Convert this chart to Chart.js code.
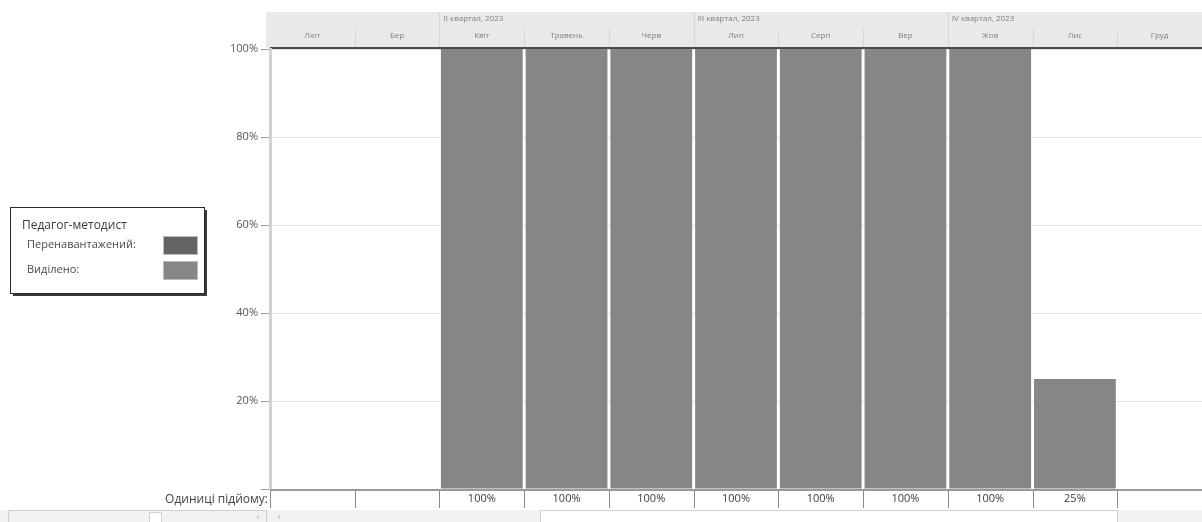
<!DOCTYPE html>
<html lang="uk">
<head>
<meta charset="utf-8">
<title>Графік ресурсів — Педагог-методист</title>
<script src="https://cdn.jsdelivr.net/npm/chart.js@4.4.1/dist/chart.umd.min.js"></script>
<style>
  html, body { margin: 0; padding: 0; background: #ffffff; }
  #wrap { position: relative; width: 1202px; height: 522px; }
  canvas { display: block; }
</style>
</head>
<body>
<div id="wrap"><canvas id="chart" width="1202" height="522"></canvas></div>
<script>
// Timescale: months shown in the view
const months = ['Лют', 'Бер', 'Квіт', 'Травень', 'Черв', 'Лип', 'Серп', 'Вер', 'Жов', 'Лис', 'Груд'];
// Quarter captions and the month each one starts on
const quarterLabels = ['II квартал, 2023', 'III квартал, 2023', 'IV квартал, 2023'];
const quarterStarts = ['Квіт', 'Лип', 'Жов'];
// Resource load per month, percent
const allocated = [0, 0, 100, 100, 100, 100, 100, 100, 100, 25, 0];
const overallocated = [0, 0, 0, 0, 0, 0, 0, 0, 0, 0, 0];
// Y axis ticks, percent
const yTicks = [20, 40, 60, 80, 100];

const resourceName = 'Педагог-методист';
const peakRowTitle = 'Одиниці підйому:';

const FONT = '"Open Sans", "Noto Sans", "DejaVu Sans", sans-serif';

function columnEdges(chart) {
  const xs = chart.scales.x;
  const w = (chart.chartArea.right - chart.chartArea.left) / months.length;
  const edges = [];
  for (let i = 0; i <= months.length; i++) edges.push(chart.chartArea.left + i * w);
  return { edges, w, xs };
}

// Timescale header above the plot, peak-units row and scroll strip below it
const headerPlugin = {
  id: 'timescaleHeader',
  beforeDraw(chart) {
    const ctx = chart.ctx;
    const { left, right, top } = chart.chartArea;
    const { edges, xs } = columnEdges(chart);
    ctx.save();
    ctx.fillStyle = '#e9e9e9';
    ctx.fillRect(left - 4, 12, right - left + 4, top - 13);
    // separators in month row
    ctx.strokeStyle = '#d6d6d6';
    ctx.lineWidth = 1;
    edges.forEach((x, i) => {
      if (i === 0) return;
      ctx.beginPath();
      ctx.moveTo(Math.round(x) + 0.5, 29);
      ctx.lineTo(Math.round(x) + 0.5, top - 2);
      ctx.stroke();
    });
    // quarter separators
    quarterStarts.forEach(m => {
      const i = months.indexOf(m);
      const x = Math.round(edges[i]) + 0.5;
      ctx.beginPath();
      ctx.moveTo(x, 12);
      ctx.lineTo(x, top - 2);
      ctx.stroke();
    });
    ctx.fillStyle = '#808080';
    ctx.font = '8px ' + FONT;
    ctx.textBaseline = 'middle';
    ctx.textAlign = 'left';
    quarterLabels.forEach((q, k) => {
      const i = months.indexOf(quarterStarts[k]);
      ctx.fillText(q, edges[i] + 4, 19);
    });
    ctx.textAlign = 'center';
    months.forEach((m, i) => {
      ctx.fillText(m, xs.getPixelForValue(i), 36);
    });
    // dark rule under the header
    ctx.strokeStyle = '#4a4a4a';
    ctx.lineWidth = 2;
    ctx.beginPath();
    ctx.moveTo(left, top - 1);
    ctx.lineTo(right, top - 1);
    ctx.stroke();
    ctx.restore();
  },
  afterDraw(chart) {
    const ctx = chart.ctx;
    const { left, right, bottom } = chart.chartArea;
    const { edges, xs } = columnEdges(chart);
    ctx.save();
    // peak units row
    ctx.strokeStyle = '#9a9a9a';
    ctx.lineWidth = 2;
    ctx.beginPath();
    ctx.moveTo(left, bottom + 1);
    ctx.lineTo(right, bottom + 1);
    ctx.stroke();
    ctx.strokeStyle = '#8a8a8a';
    ctx.lineWidth = 1;
    const lastUsed = 10;
    edges.forEach((x, i) => {
      if (i > lastUsed) return;
      ctx.beginPath();
      ctx.moveTo(Math.round(x) + 0.5, bottom + 1);
      ctx.lineTo(Math.round(x) + 0.5, bottom + 19);
      ctx.stroke();
    });
    ctx.fillStyle = '#3a3a3a';
    ctx.font = '11px ' + FONT;
    ctx.textBaseline = 'middle';
    ctx.textAlign = 'center';
    allocated.forEach((v, i) => {
      if (v > 0) ctx.fillText(v + '%', xs.getPixelForValue(i), bottom + 10);
    });
    ctx.textAlign = 'right';
    ctx.fillStyle = '#444';
    ctx.font = '12px ' + FONT;
    ctx.fillText(peakRowTitle, left - 2, bottom + 11);

    // horizontal scroll bar strip
    const sy = 510;
    ctx.fillStyle = '#f2f2f2';
    ctx.fillRect(0, sy, 1202, 12);
    ctx.strokeStyle = '#d0d0d0';
    ctx.strokeRect(8.5, sy + 0.5, 258, 12);
    ctx.fillStyle = '#ffffff';
    ctx.fillRect(149, sy + 2, 13, 10);
    ctx.strokeRect(149.5, sy + 2.5, 12, 10);
    ctx.fillStyle = '#ffffff';
    ctx.fillRect(540, sy + 1, 577, 11);
    ctx.strokeRect(540.5, sy + 0.5, 577, 12);
    ctx.fillStyle = '#777';
    ctx.font = '8px ' + FONT;
    ctx.textAlign = 'center';
    ctx.fillText('‹', 258, sy + 7);
    ctx.fillText('‹', 279, sy + 7);
    ctx.restore();
  }
};

// Resource legend box on the left
const legendPlugin = {
  id: 'resourceLegend',
  afterDraw(chart) {
    const ctx = chart.ctx;
    const bx = 10, by = 207, bw = 194, bh = 86;
    ctx.save();
    ctx.fillStyle = '#3a3a3a';
    ctx.fillRect(bx + 3, by + 3, bw, bh);
    ctx.fillStyle = '#ffffff';
    ctx.fillRect(bx, by, bw, bh);
    ctx.strokeStyle = '#2a2a2a';
    ctx.lineWidth = 1;
    ctx.strokeRect(bx + 0.5, by + 0.5, bw, bh);
    ctx.fillStyle = '#3c3c3c';
    ctx.font = '12px ' + FONT;
    ctx.textBaseline = 'middle';
    ctx.textAlign = 'left';
    ctx.fillText(resourceName, bx + 12, by + 19);
    const ds = chart.data.datasets;
    const rows = [ds[1], ds[0]];
    rows.forEach((d, k) => {
      const y = by + 38 + k * 25;
      ctx.fillStyle = '#4a4a4a';
      ctx.font = '11px ' + FONT;
      ctx.fillText(d.label, bx + 17, y);
      ctx.fillStyle = d.backgroundColor;
      ctx.fillRect(bx + 153, y - 9, 35, 19);
      ctx.strokeStyle = '#bbbbbb';
      ctx.strokeRect(bx + 153.5, y - 8.5, 34, 18);
    });
    ctx.restore();
  }
};

new Chart(document.getElementById('chart'), {
  type: 'bar',
  data: {
    labels: months,
    datasets: [
      {
        label: 'Виділено:',
        data: allocated,
        backgroundColor: '#868686',
        barPercentage: 1,
        categoryPercentage: 0.965,
        stack: 'load'
      },
      {
        label: 'Перенавантажений:',
        data: overallocated,
        backgroundColor: '#636363',
        barPercentage: 1,
        categoryPercentage: 0.965,
        stack: 'load'
      }
    ]
  },
  options: {
    responsive: false,
    animation: false,
    devicePixelRatio: 1,
    layout: { padding: { top: 49, bottom: 33, left: 0, right: 0 } },
    plugins: {
      legend: { display: false },
      tooltip: { enabled: false }
    },
    scales: {
      x: {
        stacked: true,
        grid: { display: false, drawTicks: false },
        border: { display: false },
        ticks: { display: false }
      },
      y: {
        stacked: true,
        min: 0,
        max: 100,
        afterFit(scale) { scale.width = 270; },
        afterBuildTicks(scale) {
          scale.ticks = [0].concat(yTicks).map(v => ({ value: v }));
        },
        ticks: {
          color: '#555555',
          font: { family: FONT, size: 11 },
          padding: 3,
          callback: v => (v === 0 ? '' : v + '%')
        },
        grid: {
          color: '#e4e4e4',
          tickColor: '#9a9a9a',
          tickLength: 9,
          lineWidth: 1
        },
        border: { color: '#d2d2d2', width: 3 }
      }
    }
  },
  plugins: [headerPlugin, legendPlugin]
});
</script>
</body>
</html>
